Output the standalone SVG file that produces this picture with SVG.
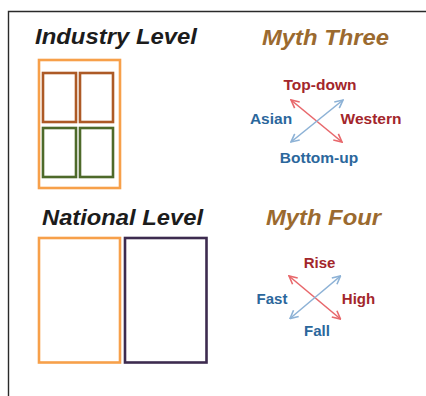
<svg xmlns="http://www.w3.org/2000/svg" width="426" height="396" viewBox="0 0 426 396">
<style>
.title{font-family:"Liberation Sans",Arial,sans-serif;font-weight:bold;font-style:italic;font-size:22px}
.blk{fill:#1c1c1c}
.myth{fill:#9b6a2f}
.lbl{font-family:"Liberation Sans",Arial,sans-serif;font-weight:bold;font-size:15px;text-anchor:middle}
.big{font-size:15.5px}
.red{fill:#a3262b}
.blue{fill:#2b679c}
.box{fill:none;stroke-width:2.6}
.orange{stroke:#f7a04a}
.brown{stroke:#ad5a26}
.green{stroke:#4e6a2a}
.purple{stroke:#3d2b4f}
.ar{stroke-width:1.6;fill:none}
.ar-red{stroke:#e8686c}
.ar-blue{stroke:#8db2d6}
</style>
<defs>
<marker id="mr" markerUnits="userSpaceOnUse" markerWidth="10" markerHeight="10" refX="8" refY="4" orient="auto-start-reverse" viewBox="-1 -1 10 10">
<path d="M0,0 L8,4 L0,8" fill="none" stroke="#e8686c" stroke-width="1.6"/>
</marker>
<marker id="mb" markerUnits="userSpaceOnUse" markerWidth="10" markerHeight="10" refX="8" refY="4" orient="auto-start-reverse" viewBox="-1 -1 10 10">
<path d="M0,0 L8,4 L0,8" fill="none" stroke="#8db2d6" stroke-width="1.6"/>
</marker>
</defs>
<rect width="426" height="396" fill="#ffffff"/>
<g id="frame" fill="none" stroke="#2a2a2a" stroke-width="1.4">
<path d="M8.5,396 L8.5,11.5 L426,11.5"/>
</g>
<g id="industry-level">
<text class="title blk" x="35" y="44" textLength="162" lengthAdjust="spacingAndGlyphs">Industry Level</text>
<rect class="box orange" x="39" y="60" width="81" height="128"/>
<rect class="box brown" x="43" y="73" width="33" height="49"/>
<rect class="box brown" x="80" y="73" width="33" height="49"/>
<rect class="box green" x="43" y="128" width="33" height="49"/>
<rect class="box green" x="80" y="128" width="33" height="49"/>
</g>
<g id="national-level">
<text class="title blk" x="42" y="225" textLength="161" lengthAdjust="spacingAndGlyphs">National Level</text>
<rect class="box orange" x="39" y="238" width="81" height="124.5"/>
<rect class="box purple" x="125" y="238" width="81.5" height="124.5"/>
</g>
<g id="myth-three">
<text class="title myth" x="262" y="45" textLength="127" lengthAdjust="spacingAndGlyphs">Myth Three</text>
<text class="lbl big red" x="320" y="90">Top-down</text>
<text class="lbl big blue" x="271" y="124">Asian</text>
<text class="lbl big red" x="371" y="124">Western</text>
<text class="lbl big blue" x="319" y="163">Bottom-up</text>
</g>
<g id="myth-four">
<text class="title myth" x="266" y="225" textLength="115" lengthAdjust="spacingAndGlyphs">Myth Four</text>
<text class="lbl red" x="319.5" y="268">Rise</text>
<text class="lbl blue" x="272" y="304">Fast</text>
<text class="lbl red" x="358.5" y="304">High</text>
<text class="lbl blue" x="317" y="335.5">Fall</text>
</g>
<g id="connectors">
<line class="ar ar-red" x1="291" y1="100" x2="342" y2="142" marker-start="url(#mr)" marker-end="url(#mr)"/>
<line class="ar ar-blue" x1="291" y1="142" x2="343" y2="100" marker-start="url(#mb)" marker-end="url(#mb)"/>
<line class="ar ar-red" x1="289" y1="276" x2="340.5" y2="319" marker-start="url(#mr)" marker-end="url(#mr)"/>
<line class="ar ar-blue" x1="290" y1="318.5" x2="340.5" y2="276" marker-start="url(#mb)" marker-end="url(#mb)"/>
</g>
</svg>
